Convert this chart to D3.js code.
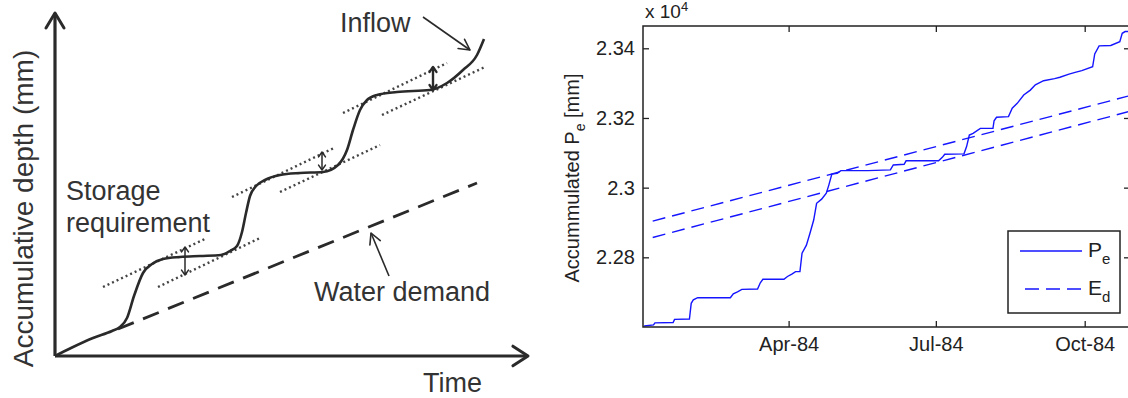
<!DOCTYPE html>
<html><head><meta charset="utf-8">
<script src="https://cdn.jsdelivr.net/npm/d3@7"></script>
<style>
body{margin:0;background:#fff}
svg{display:block}
text{font-family:"Liberation Sans",Arial,Helvetica,sans-serif}
</style>
</head><body>
<svg id="c" width="1128" height="398"></svg>
<script>
// ---------------- LEFT PANEL (schematic) data, in schematic units ----------------
const inflowT = [0,16,38,57,65,72,79,88,97,108,125,145,166,175,182,187,191,195,201,210,225,245,268,283,292,298,305,312,322,342,375,392,408,422,429];
const inflowD = [0,8,18,25,29,38,60,83,92,97,99,100,101,105,110,124,143,160,170,176,181,183,184,191,206,226,246,256,261,264,266,273,286,301,317];
const demandT = [63,422];
const demandD = [27,173];
// tangent (dotted) lines: t1,d1,t2,d2
const tangentLines = [[48,69,152,118],[103,69,205,118],[177,159,279,208],[225,164,325,211],[288,243,392,293],[327,241,430,289]];
// storage requirement double arrows
const storageT = [130,267,378];
const storageLow = [81,186,266];
const storageHigh = [109,204,289];
const storageWidth = [1.5,1.5,2.4];
// annotation pointer arrows: from (t,d) to tip (t,d)
const pointerArrows = [[368,339,415,306],[334,80,316,123]];
const leftLabels = {y:"Accumulative depth (mm)", x:"Time", inflow:"Inflow", storage:["Storage","requirement"], demand:"Water demand"};

// ---------------- RIGHT PANEL data ----------------
// day of year 1984 (Jan 1 = 0), accumulated Pe in units of 10^4 mm
const peDay = [1.7,7.5,8.4,19.6,20.5,29.7,30.8,32.1,34.8,55.0,56.8,59.4,62.1,71.8,73.5,75.1,88.1,90.3,93.0,95.3,98.0,99.3,102.0,104.2,106.5,108.3,111.4,114.3,115.9,117.7,121.0,123.3,140.0,153.9,155.7,162.4,163.6,183.7,186.0,187.5,199.4,201.0,202.7,205.0,209.5,217.3,218.0,219.5,226.9,229.2,232.3,236.3,240.4,243.5,248.6,255.4,258.7,264.3,268.1,272.2,278.9,280.2,282.9,290.1,295.7,297.2,299.0,301.3];
const peVal = [2.2603,2.2606,2.2612,2.2613,2.2622,2.2623,2.2668,2.2678,2.2684,2.2684,2.2695,2.2701,2.2708,2.2709,2.2727,2.2737,2.2737,2.2745,2.2752,2.2759,2.2759,2.2812,2.2835,2.2869,2.2907,2.2955,2.2967,2.2984,2.3008,2.3039,2.3041,2.3049,2.3049,2.3051,2.3065,2.3067,2.3077,2.3077,2.3087,2.3096,2.3097,2.3118,2.3151,2.3156,2.3170,2.3170,2.3192,2.3202,2.3204,2.3228,2.3242,2.3266,2.3280,2.3295,2.3307,2.3313,2.3317,2.3326,2.3331,2.3336,2.3347,2.3384,2.3407,2.3408,2.3419,2.3443,2.3448,2.3448];
const edDay = [7,183,301];
const edUpper = [2.2904,2.3119,2.3263];
const edLower = [2.2857,2.3073,2.3218];
const xTickDates = [[1984,3,1],[1984,6,1],[1984,9,1]];
const yTickValues = [2.28,2.30,2.32,2.34];
const legendNames = [["P","e"],["E","d"]];

const svg = d3.select("#c");
const ink = "#2a2a2a";

// ======== LEFT ========
const xL = d3.scaleLinear().domain([0,473]).range([55,528]);
const yL = d3.scaleLinear().domain([0,343]).range([356,13]);
const gL = svg.append("g");

function arrowHead(g, x1,y1,x2,y2,len,angDeg,w,color){
  const th = Math.atan2(y1-y2, x1-x2), a = angDeg*Math.PI/180;
  const p = d3.path();
  p.moveTo(x2+len*Math.cos(th+a), y2+len*Math.sin(th+a));
  p.lineTo(x2,y2);
  p.lineTo(x2+len*Math.cos(th-a), y2+len*Math.sin(th-a));
  g.append("path").attr("d",p.toString()).attr("fill","none").attr("stroke",color)
    .attr("stroke-width",w).attr("stroke-linecap","round").attr("stroke-linejoin","round");
}

// axes
gL.append("line").attr("x1",xL(0)).attr("y1",yL(0)).attr("x2",xL(0)).attr("y2",yL(343))
  .attr("stroke",ink).attr("stroke-width",3.2);
gL.append("line").attr("x1",xL(0)).attr("y1",yL(0)).attr("x2",xL(473)).attr("y2",yL(0))
  .attr("stroke",ink).attr("stroke-width",3.2);
arrowHead(gL, xL(0),yL(0),xL(0),yL(343),17.5,31,3,ink);
arrowHead(gL, xL(0),yL(0),xL(473),yL(0),18,33,3,ink);

// tangent dotted lines
gL.selectAll(".tan").data(tangentLines).enter().append("line")
  .attr("x1",d=>xL(d[0])).attr("y1",d=>yL(d[1])).attr("x2",d=>xL(d[2])).attr("y2",d=>yL(d[3]))
  .attr("stroke","#444").attr("stroke-width",2.4).attr("stroke-dasharray","2,3");

// demand dashed
gL.append("line").attr("x1",xL(demandT[0])).attr("y1",yL(demandD[0])).attr("x2",xL(demandT[1])).attr("y2",yL(demandD[1]))
  .attr("stroke",ink).attr("stroke-width",2.8).attr("stroke-dasharray","17,10");

// inflow curve
const inflowPts = inflowT.map((t,i)=>[t,inflowD[i]]);
gL.append("path").datum(inflowPts)
  .attr("d", d3.line().x(d=>xL(d[0])).y(d=>yL(d[1])).curve(d3.curveMonotoneX))
  .attr("fill","none").attr("stroke",ink).attr("stroke-width",2.6);

// storage double arrows
storageT.forEach((t,i)=>{
  const x=xL(t), y1=yL(storageLow[i]), y2=yL(storageHigh[i]);
  gL.append("line").attr("x1",x).attr("y1",y1).attr("x2",x).attr("y2",y2).attr("stroke",ink).attr("stroke-width",storageWidth[i]);
  arrowHead(gL,x,y1,x,y2,6,35,storageWidth[i],ink);
  arrowHead(gL,x,y2,x,y1,6,35,storageWidth[i],ink);
});

// pointer arrows
pointerArrows.forEach(a=>{
  const x1=xL(a[0]),y1=yL(a[1]),x2=xL(a[2]),y2=yL(a[3]);
  gL.append("line").attr("x1",x1).attr("y1",y1).attr("x2",x2).attr("y2",y2).attr("stroke",ink).attr("stroke-width",1.6);
  arrowHead(gL,x1,y1,x2,y2,12,28,1.6,ink);
});

// texts
const tcol="#333";
gL.append("text").attr("transform","translate(33,208.5) rotate(-90)").attr("text-anchor","middle")
  .attr("font-size",28).attr("fill",tcol).text(leftLabels.y);
gL.append("text").attr("x",423).attr("y",392).attr("font-size",27).attr("fill",tcol).text(leftLabels.x);
gL.append("text").attr("x",340).attr("y",32).attr("font-size",27).attr("fill",tcol).text(leftLabels.inflow);
gL.append("text").attr("x",66).attr("y",200).attr("font-size",27).attr("fill",tcol).text(leftLabels.storage[0]);
gL.append("text").attr("x",66).attr("y",232).attr("font-size",27).attr("fill",tcol).text(leftLabels.storage[1]);
gL.append("text").attr("x",314).attr("y",301).attr("font-size",27).attr("fill",tcol).text(leftLabels.demand);

// ======== RIGHT ========
const toDate = d => new Date(Date.UTC(1984,0,1) + d*864e5);
const xR = d3.scaleUtc().domain([toDate(1), toDate(302)]).range([643,1130]);
const yR = d3.scaleLinear().domain([2.26, 2.3464]).range([327,26]);
const gR = svg.append("g");
const axCol = "#222";

svg.append("defs").append("clipPath").attr("id","clipR").append("rect")
  .attr("x",643).attr("y",26).attr("width",1130-643).attr("height",327-26);

const plot = gR.append("g").attr("clip-path","url(#clipR)");
const lineR = d3.line().x(d=>xR(toDate(d[0]))).y(d=>yR(d[1]));
plot.append("path").datum(peDay.map((d,i)=>[d,peVal[i]])).attr("d",lineR)
  .attr("fill","none").attr("stroke","#1515ff").attr("stroke-width",1.4);
[edUpper, edLower].forEach(s=>{
  plot.append("path").datum(edDay.map((d,i)=>[d,s[i]])).attr("d",lineR)
    .attr("fill","none").attr("stroke","#1515ff").attr("stroke-width",1.4).attr("stroke-dasharray","13,7");
});

const xTicks = xTickDates.map(d=>new Date(Date.UTC(d[0],d[1],d[2])));
const fmtY = v => d3.format(".2f")(v).replace(/0$/,"");
const axB = gR.append("g").attr("transform","translate(0,327)")
  .call(d3.axisBottom(xR).tickValues(xTicks).tickFormat(d3.utcFormat("%b-%y")).tickSizeInner(-6).tickSizeOuter(0).tickPadding(10));
const axT = gR.append("g").attr("transform","translate(0,26)")
  .call(d3.axisTop(xR).tickValues(xTicks).tickFormat("").tickSizeInner(-6).tickSizeOuter(0));
const axLf = gR.append("g").attr("transform","translate(643,0)")
  .call(d3.axisLeft(yR).tickValues(yTickValues).tickFormat(fmtY).tickSizeInner(-6).tickSizeOuter(0).tickPadding(8));
const axRt = gR.append("g").attr("transform","translate(1130,0)")
  .call(d3.axisRight(yR).tickValues(yTickValues).tickFormat("").tickSizeInner(-6).tickSizeOuter(0));
[axB,axT,axLf,axRt].forEach(a=>{
  a.select(".domain").remove();
  a.selectAll("line").attr("stroke",axCol).attr("stroke-width",1.3);
  a.selectAll("text").attr("font-size",20).attr("fill",axCol).attr("font-family","Liberation Sans, Arial, sans-serif");
});
gR.append("rect").attr("x",643).attr("y",26).attr("width",1130-643).attr("height",327-26)
  .attr("fill","none").attr("stroke",axCol).attr("stroke-width",1.5);

// exponent label
const ex = gR.append("text").attr("x",645).attr("y",18).attr("font-size",19).attr("fill",axCol);
ex.append("tspan").text("x 10");
ex.append("tspan").attr("font-size",13).attr("dy",-7).text("4");

// y label
const yl = gR.append("text").attr("transform","translate(579,178) rotate(-90)").attr("text-anchor","middle")
  .attr("font-size",20).attr("fill",axCol);
yl.append("tspan").text("Accummulated P");
yl.append("tspan").attr("font-size",14).attr("dy",6).text("e");
yl.append("tspan").attr("dy",-6).text(" [mm]");

// legend
const lg = gR.append("g");
lg.append("rect").attr("x",1008).attr("y",231).attr("width",112).attr("height",82)
  .attr("fill","#fff").attr("stroke",axCol).attr("stroke-width",1.5);
const legY = [251,289];
legendNames.forEach((n,i)=>{
  lg.append("line").attr("x1",i?1025:1020).attr("x2",1082).attr("y1",legY[i]).attr("y2",legY[i])
    .attr("stroke","#1515ff").attr("stroke-width",1.4).attr("stroke-dasharray",i?"14,7":null);
  const t = lg.append("text").attr("x",1088).attr("y",legY[i]+6).attr("font-size",21).attr("fill",axCol);
  t.append("tspan").text(n[0]);
  t.append("tspan").attr("font-size",15).attr("dy",7).text(n[1]);
});
</script>
</body></html>
